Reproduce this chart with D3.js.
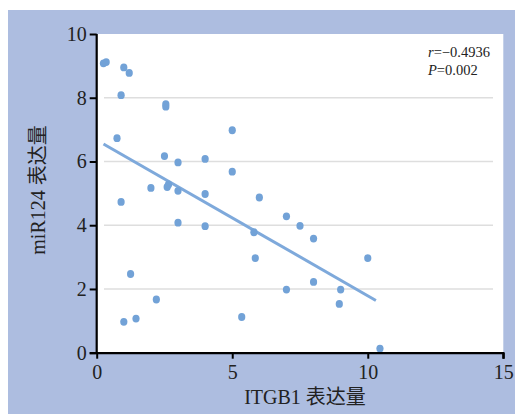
<!DOCTYPE html>
<html>
<head>
<meta charset="utf-8">
<script src="https://cdn.jsdelivr.net/npm/d3@7/dist/d3.min.js"></script>
<style>
  html, body { margin: 0; padding: 0; background: #ffffff; }
  svg { display: block; }
  text { font-family: "Liberation Serif", "Times New Roman", "Noto Sans CJK SC", serif; fill: #222; }
</style>
</head>
<body>
<svg id="chart" width="515" height="414"></svg>
<script>
// ITGB1 expression (x) and miR124 expression (y) per sample
const itgb1 = [0.25, 0.35, 1.0, 1.2, 0.9, 2.55, 2.55, 0.75, 5.0, 2.5, 3.0, 4.0, 5.0, 2.0, 2.6, 2.65,
               3.0, 4.0, 0.9, 3.0, 4.0, 6.0, 7.0, 7.5, 8.0, 5.8, 5.85, 10.0, 8.0, 7.0, 9.0, 8.95,
               5.35, 10.45, 1.25, 2.2, 1.45, 1.0];
const mir124 = [9.08, 9.12, 8.95, 8.78, 8.08, 7.72, 7.8, 6.73, 6.98, 6.17, 5.97, 6.08, 5.68, 5.17, 5.2, 5.28,
                5.08, 4.98, 4.73, 4.08, 3.97, 4.87, 4.28, 3.98, 3.58, 3.78, 2.97, 2.97, 2.22, 1.98, 1.98, 1.53,
                1.12, 0.13, 2.47, 1.67, 1.07, 0.97];

// Linear regression line endpoints
const fitX = [0.25, 10.3];
const fitY = [6.55, 1.64];

// Axis ticks and gridlines
const xTicks = [0, 5, 10, 15];
const yTicks = [0, 2, 4, 6, 8, 10];
const yGrid = [2, 4, 6, 8];

// Labels
const xTitle = "ITGB1 表达量";
const yTitle = "miR124 表达量";
const statR = "−0.4936";
const statP = "0.002";

const svg = d3.select("#chart");

const x = d3.scaleLinear().domain([0, 15]).range([96.7, 503.3]);
const y = d3.scaleLinear().domain([0, 10]).range([352.7, 34]);

// Outer tinted frame and white plotting panel
svg.append("rect").attr("x", 8).attr("y", 10).attr("width", 507).attr("height", 404).attr("fill", "#adbde0");
svg.append("rect").attr("x", x(0)).attr("y", y(10)).attr("width", x(15) - x(0)).attr("height", y(0) - y(10)).attr("fill", "#ffffff");

// Horizontal gridlines
svg.append("g").selectAll("line").data(yGrid).join("line")
  .attr("x1", 104).attr("x2", 493)
  .attr("y1", d => y(d)).attr("y2", d => y(d))
  .attr("stroke", "#dedede").attr("stroke-width", 1.5);

// Regression line
svg.append("line")
  .attr("x1", x(fitX[0])).attr("y1", y(fitY[0]))
  .attr("x2", x(fitX[1])).attr("y2", y(fitY[1]))
  .attr("stroke", "#7ea9db").attr("stroke-width", 3);

// Sample points
svg.append("g").selectAll("ellipse").data(d3.range(itgb1.length)).join("ellipse")
  .attr("cx", i => x(itgb1[i])).attr("cy", i => y(mir124[i]))
  .attr("rx", 3.6).attr("ry", 3.9)
  .attr("fill", "#72a2d7");

// Axes
const xAxis = d3.axisBottom(x).tickValues(xTicks).tickSize(6).tickPadding(5).tickFormat(d3.format("d"));
const yAxis = d3.axisLeft(y).tickValues(yTicks).tickSize(7).tickPadding(3).tickFormat(d3.format("d"));

const gx = svg.append("g").attr("transform", `translate(0,${y(0)})`).call(xAxis);
const gy = svg.append("g").attr("transform", `translate(${x(0)},0)`).call(yAxis);

[gx, gy].forEach(g => {
  g.select(".domain").attr("stroke", "#000").attr("stroke-width", 2.2);
  g.selectAll(".tick line").attr("stroke", "#000").attr("stroke-width", 2);
  g.selectAll(".tick text").attr("font-size", 20).attr("fill", "#222")
    .attr("font-family", "'Liberation Serif', 'Times New Roman', serif");
});
gx.select(".domain").attr("d", `M${x(0) - 7},0.5H${x(15)}V6`);
gy.select(".domain").attr("d", `M0,${y(10)}V${y(0) + 1}`);
gx.selectAll(".tick text").attr("dy", "0.78em");

// Axis titles
svg.append("text")
  .attr("x", 305).attr("y", 404)
  .attr("text-anchor", "middle").attr("font-size", 20)
  .text(xTitle);

svg.append("text")
  .attr("transform", "translate(45,190) rotate(-90)")
  .attr("text-anchor", "middle").attr("font-size", 20)
  .text(yTitle);

// Correlation statistics
const stats = svg.append("g").attr("font-size", 14.5);
const t1 = stats.append("text").attr("x", 428).attr("y", 57);
t1.append("tspan").attr("font-style", "italic").text("r");
t1.append("tspan").text("=" + statR);
const t2 = stats.append("text").attr("x", 428).attr("y", 75);
t2.append("tspan").attr("font-style", "italic").text("P");
t2.append("tspan").text("=" + statP);
</script>
</body>
</html>
